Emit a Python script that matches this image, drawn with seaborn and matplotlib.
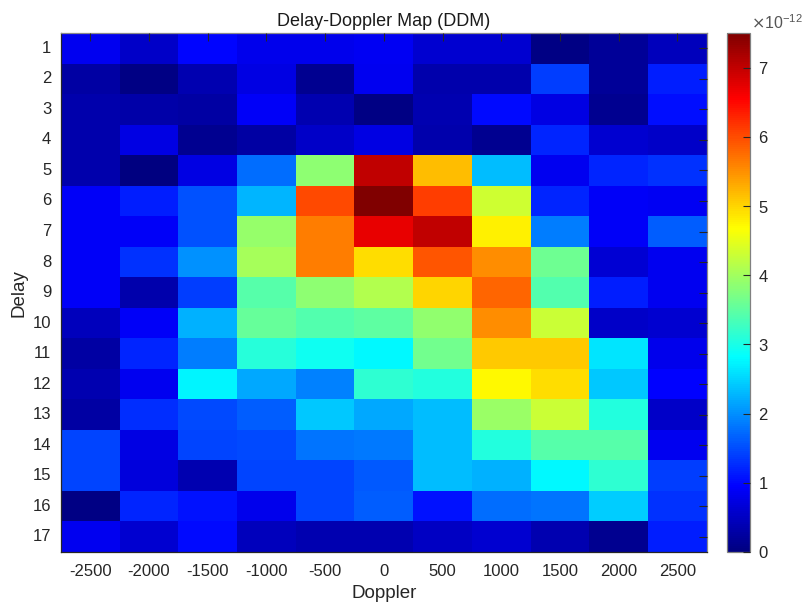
import numpy as np
import pandas as pd
import matplotlib
matplotlib.use("Agg")
import matplotlib.pyplot as plt
import seaborn as sns
from matplotlib.colors import LinearSegmentedColormap
from matplotlib.ticker import ScalarFormatter

# Delay bins (rows) and Doppler bins (columns)
delay = list(range(1, 18))
doppler = [-2500, -2000, -1500, -1000, -500, 0, 500, 1000, 1500, 2000, 2500]

# Power values in units of 1e-12 (one row per delay bin)
r01 = [0.83, 0.53, 0.98, 0.80, 0.80, 0.85, 0.60, 0.60, 0.05, 0.20, 0.45]
r02 = [0.28, 0.05, 0.38, 0.75, 0.12, 0.83, 0.33, 0.33, 1.38, 0.20, 1.15]
r03 = [0.33, 0.30, 0.28, 0.88, 0.38, 0.05, 0.38, 1.00, 0.75, 0.12, 1.05]
r04 = [0.33, 0.75, 0.12, 0.28, 0.53, 0.75, 0.35, 0.12, 1.23, 0.60, 0.53]
r05 = [0.33, 0.02, 0.75, 1.75, 3.84, 7.01, 5.16, 2.34, 0.83, 1.23, 1.30]
r06 = [0.90, 1.15, 1.53, 2.26, 6.02, 7.50, 6.12, 4.31, 1.23, 0.88, 0.85]
r07 = [0.88, 0.90, 1.53, 3.91, 5.65, 6.71, 7.01, 4.80, 1.86, 0.88, 1.64]
r08 = [0.90, 1.30, 2.00, 4.03, 5.65, 4.95, 5.94, 5.53, 3.62, 0.64, 0.83]
r09 = [0.90, 0.33, 1.38, 3.43, 3.84, 4.13, 4.99, 5.83, 3.40, 1.15, 0.83]
r10 = [0.45, 0.90, 2.23, 3.55, 3.40, 3.50, 3.87, 5.53, 4.28, 0.53, 0.60]
r11 = [0.28, 1.23, 1.86, 3.10, 2.92, 2.78, 3.66, 5.09, 5.09, 2.63, 0.80]
r12 = [0.38, 0.83, 2.74, 2.19, 1.90, 3.14, 3.07, 4.74, 4.95, 2.41, 0.95]
r13 = [0.28, 1.27, 1.49, 1.64, 2.41, 2.19, 2.34, 3.95, 4.28, 3.07, 0.53]
r14 = [1.45, 0.75, 1.45, 1.49, 1.79, 1.82, 2.34, 3.07, 3.43, 3.43, 0.83]
r15 = [1.45, 0.70, 0.38, 1.45, 1.45, 1.60, 2.34, 2.23, 2.78, 3.14, 1.38]
r16 = [0.05, 1.23, 1.08, 0.80, 1.45, 1.64, 1.08, 1.75, 1.79, 2.45, 1.30]
r17 = [0.83, 0.60, 1.00, 0.45, 0.38, 0.38, 0.50, 0.60, 0.38, 0.12, 1.15]

rows = [r01, r02, r03, r04, r05, r06, r07, r08, r09, r10, r11, r12, r13, r14, r15, r16, r17]
df = pd.DataFrame(np.array(rows) * 1e-12, index=delay, columns=doppler)

# MATLAB-style jet colormap
jet = LinearSegmentedColormap.from_list(
    "mjet",
    [(0.0, (0, 0, 0.5)), (1/8, (0, 0, 1)), (3/8, (0, 1, 1)),
     (5/8, (1, 1, 0)), (7/8, (1, 0, 0)), (1.0, (0.5, 0, 0))], N=256)

sns.set_style("white")
plt.rcParams['font.family'] = ['Liberation Sans', 'DejaVu Sans']

fig = plt.figure(figsize=(8.05, 6.09), dpi=100)
ax = fig.add_axes([0.0758, 0.0936, 0.802, 0.852])
cax = fig.add_axes([0.903, 0.0936, 0.0286, 0.852])

tc = '#262626'
sns.heatmap(df, ax=ax, cbar_ax=cax, cmap=jet, vmin=0, vmax=7.5e-12,
            xticklabels=doppler, yticklabels=delay, linewidths=0)

ax.set_axisbelow(False)
cax.set_axisbelow(False)
ax.set_title("Delay-Doppler Map (DDM)", fontsize=13, color='#1a1a1a', pad=5)
ax.set_xlabel("Doppler", fontsize=13.5, color=tc, labelpad=4)
ax.set_ylabel("Delay", fontsize=13.5, color=tc, labelpad=4)
ax.tick_params(axis='both', which='both', direction='in', length=6, width=0.8,
               top=True, right=True, colors=tc, labelcolor=tc, labelsize=12)
ax.tick_params(axis='x', pad=9, labelrotation=0)
ax.tick_params(axis='y', pad=7, labelrotation=0)
for name, s in ax.spines.items():
    s.set_visible(True)
    s.set_linewidth(0.9)
    s.set_color(tc if name in ('bottom', 'left') else '#8a8a8a')

cb = ax.collections[0].colorbar
cb.outline.set_linewidth(0.9)
cb.outline.set_edgecolor('#808080')
fmt = ScalarFormatter(useMathText=True)
fmt.set_powerlimits((0, 0))
cb.formatter = fmt
cb.set_ticks([i * 1e-12 for i in range(8)])
cb.update_ticks()
cax.tick_params(direction='in', length=5, width=0.8, colors=tc,
                labelcolor=tc, labelsize=12, pad=6)
off = cax.yaxis.get_offset_text()
off.set_fontsize(11.5)
off.set_color('#555555')
off.set_x(1.05)
off.set_horizontalalignment('left')

fig.savefig("out.png", dpi=100)
